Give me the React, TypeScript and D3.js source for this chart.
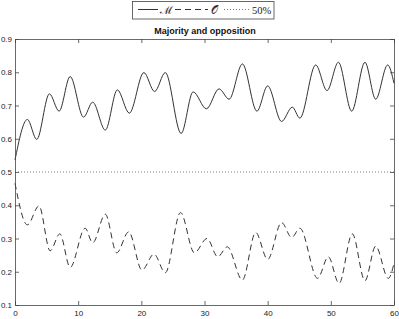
import React, { useEffect, useRef } from 'react';
import * as d3 from 'd3';

// extrema (time, share)
const majT = [0, 1.96, 3.44, 5.45, 6.98, 8.73, 10.85, 12.3, 14.3, 16.2, 18.1, 20.4, 22.1, 23.8, 26.3, 28.2, 30.3, 32.3, 33.9, 36.0, 38.3, 40.0, 42.2, 43.9, 45.1, 47.6, 49.4, 51.2, 53.3, 55.4, 57.1, 59.0, 60];
const majV = [0.536, 0.658, 0.598, 0.735, 0.683, 0.787, 0.665, 0.71, 0.626, 0.747, 0.677, 0.799, 0.742, 0.799, 0.616, 0.741, 0.69, 0.75, 0.719, 0.825, 0.683, 0.759, 0.652, 0.695, 0.662, 0.822, 0.745, 0.83, 0.683, 0.83, 0.719, 0.822, 0.767];

const oppT = [0, 1.96, 3.8, 5.56, 7.1, 8.73, 11.1, 12.3, 14.3, 16.1, 18.0, 20.1, 22, 23.8, 26.2, 28.4, 30.4, 32.1, 33.6, 36.0, 38.1, 40.0, 42.2, 43.8, 45.1, 47.9, 49.6, 51.3, 53.4, 55.4, 57.1, 59.1, 60];
const oppV = [0.466, 0.341, 0.398, 0.263, 0.314, 0.213, 0.331, 0.287, 0.373, 0.257, 0.32, 0.205, 0.253, 0.197, 0.378, 0.257, 0.3, 0.245, 0.275, 0.175, 0.318, 0.237, 0.348, 0.303, 0.331, 0.18, 0.245, 0.165, 0.314, 0.173, 0.277, 0.18, 0.225];

const xTicks = [0, 10, 20, 30, 40, 50, 60];
const yTicks = [0.1, 0.2, 0.3, 0.4, 0.5, 0.6, 0.7, 0.8, 0.9];
const halfLine = 0.5;

const App = () => {
  const ref = useRef<SVGSVGElement | null>(null);

  useEffect(() => {
    if (!ref.current) return;
    const svg = d3.select(ref.current);
    svg.selectAll('*').remove();

    const x = d3.scaleLinear().domain([0, 60]).range([15, 394]);
    const y = d3.scaleLinear().domain([0.1, 0.9]).range([305, 39]);
    const axisColor = '#444';
    const lineColor = '#333';
    const font = '"Liberation Sans", Arial, sans-serif';

    const line = d3.line<[number, number]>()
      .x(d => x(d[0]))
      .y(d => y(d[1]))
      .curve(d3.curveMonotoneX);

    const majData = majT.map((t, i) => [t, majV[i]] as [number, number]);
    const oppData = oppT.map((t, i) => [t, oppV[i]] as [number, number]);

    // 50% reference
    svg.append('path')
      .attr('d', line([[0, halfLine], [60, halfLine]]))
      .attr('fill', 'none')
      .attr('stroke', '#555')
      .attr('stroke-width', 0.8)
      .attr('stroke-dasharray', '1,2');

    svg.append('path')
      .attr('d', line(majData))
      .attr('fill', 'none')
      .attr('stroke', lineColor)
      .attr('stroke-width', 1);

    svg.append('path')
      .attr('d', line(oppData))
      .attr('fill', 'none')
      .attr('stroke', lineColor)
      .attr('stroke-width', 1)
      .attr('stroke-dasharray', '6,4');

    const styleAxis = (g: any) => {
      g.attr('font-size', null).attr('font-family', null);
      g.selectAll('.domain').attr('stroke', axisColor).attr('stroke-width', 0.8);
      g.selectAll('.tick line').attr('stroke', axisColor).attr('stroke-width', 0.8);
      g.selectAll('text').attr('fill', '#222').style('font-family', font).style('font-size', '8px');
    };

    svg.append('g')
      .attr('transform', 'translate(0,305)')
      .call(d3.axisBottom(x).tickValues(xTicks).tickFormat(d3.format('d')).tickSizeInner(-4).tickSizeOuter(0).tickPadding(5.7))
      .call(styleAxis);

    svg.append('g')
      .attr('transform', 'translate(15,0)')
      .call(d3.axisLeft(y).tickValues(yTicks).tickFormat(d3.format('.1f')).tickSizeInner(-4).tickSizeOuter(0).tickPadding(3))
      .call(styleAxis);

    svg.append('g')
      .attr('transform', 'translate(0,39)')
      .call(d3.axisTop(x).tickValues(xTicks).tickFormat(() => '').tickSizeInner(-4).tickSizeOuter(0))
      .call(styleAxis);

    svg.append('g')
      .attr('transform', 'translate(394,0)')
      .call(d3.axisRight(y).tickValues(yTicks).tickFormat(() => '').tickSizeInner(-4).tickSizeOuter(0))
      .call(styleAxis);

    svg.append('text')
      .attr('x', 205)
      .attr('y', 34)
      .attr('text-anchor', 'middle')
      .attr('fill', '#111')
      .style('font-family', font)
      .style('font-size', '9px')
      .style('font-weight', 'bold')
      .text('Majority and opposition');

    // legend
    const lg = svg.append('g');
    lg.append('rect')
      .attr('x', 132.5).attr('y', 1.5).attr('width', 141.5).attr('height', 17.5)
      .attr('fill', 'white').attr('stroke', axisColor).attr('stroke-width', 0.8);
    const ly = 9.5;
    const serif = '"Liberation Serif", "DejaVu Serif", serif';
    lg.append('line').attr('x1', 138).attr('x2', 158).attr('y1', ly).attr('y2', ly)
      .attr('stroke', lineColor).attr('stroke-width', 1);
    lg.append('text').attr('x', 160).attr('y', 14).attr('fill', '#222')
      .style('font-family', serif).style('font-size', '11px').text('ℳ');
    lg.append('line').attr('x1', 175).attr('x2', 208).attr('y1', ly).attr('y2', ly)
      .attr('stroke', lineColor).attr('stroke-width', 1).attr('stroke-dasharray', '6,4');
    lg.append('text').attr('x', 211).attr('y', 14).attr('fill', '#222')
      .style('font-family', serif).style('font-size', '11px').text('𝒪');
    lg.append('line').attr('x1', 224).attr('x2', 251).attr('y1', ly).attr('y2', ly)
      .attr('stroke', '#555').attr('stroke-width', 0.8).attr('stroke-dasharray', '1,2');
    lg.append('text').attr('x', 252).attr('y', 14).attr('fill', '#222')
      .style('font-family', serif).style('font-size', '10.5px').text('50%');
  }, []);

  return (
    <div style={{ position: 'absolute', left: 0, top: 0, width: 399, height: 319, background: 'white' }}>
      <svg ref={ref} width={399} height={319} />
    </div>
  );
};

export default App;
